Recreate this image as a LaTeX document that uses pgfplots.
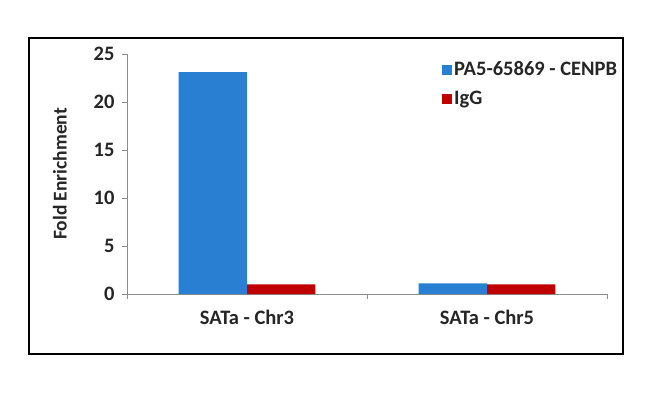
\documentclass[border=0pt]{standalone}
\usepackage{pgfplots}
\pgfplotsset{compat=1.18}
\usepackage{fontspec}
\setmainfont{Carlito}
\definecolor{cblue}{RGB}{41,128,211}
\definecolor{cred}{RGB}{192,0,0}
\definecolor{axgray}{RGB}{140,140,140}
\begin{document}
\begin{tikzpicture}[x=1pt,y=1pt]
\fill[white] (0,0) rectangle (650,399);
\draw[black, line width=1.6pt] (29,45) rectangle (623,361);
\begin{axis}[
  at={(127pt,105pt)}, anchor=south west,
  scale only axis, width=480pt, height=240pt,
  xmin=-0.5, xmax=1.5, ymin=0, ymax=25,
  axis x line=bottom, axis y line=left,
  axis line style={axgray, line width=0.8pt, -},
  ytick={0,5,10,15,20,25},
  xtick={-0.5,0.5,1.5}, xticklabels={},
  extra x ticks={0,1},
  extra x tick labels={SATa - Chr3, SATa - Chr5},
  extra x tick style={major tick length=0pt, tick label style={yshift=-13pt}},
  tick align=outside,
  major tick length=5pt,
  tick style={axgray, line width=0.8pt},
  /pgf/number format/assume math mode=true,
  tick label style={font=\bfseries\fontsize{20.5}{23}\selectfont, text=black!85},
  yticklabel style={xshift=-4pt},
  ylabel={Fold Enrichment},
  ylabel style={font=\bfseries\fontsize{19.5}{22}\selectfont, text=black!85, at={(ticklabel cs:0.5)}, anchor=south, yshift=20pt},
  ybar=0pt, bar width=0.285,
  legend style={at={(0.65,0.985)}, anchor=north west, draw=none, fill=none,
    font=\bfseries\fontsize{20.5}{23}\selectfont, text=black!85,
    row sep=10pt, cells={anchor=west}},
  legend image code/.code={\fill[#1] (0pt,-5pt) rectangle (10pt,5pt);},
]
\addplot[fill=cblue, draw=none] coordinates {(0,23.1) (1,1.1)};
\addplot[fill=cred, draw=none] coordinates {(0,1.0) (1,1.0)};
\legend{PA5-65869 - CENPB, IgG}
\end{axis}
\end{tikzpicture}
\end{document}
